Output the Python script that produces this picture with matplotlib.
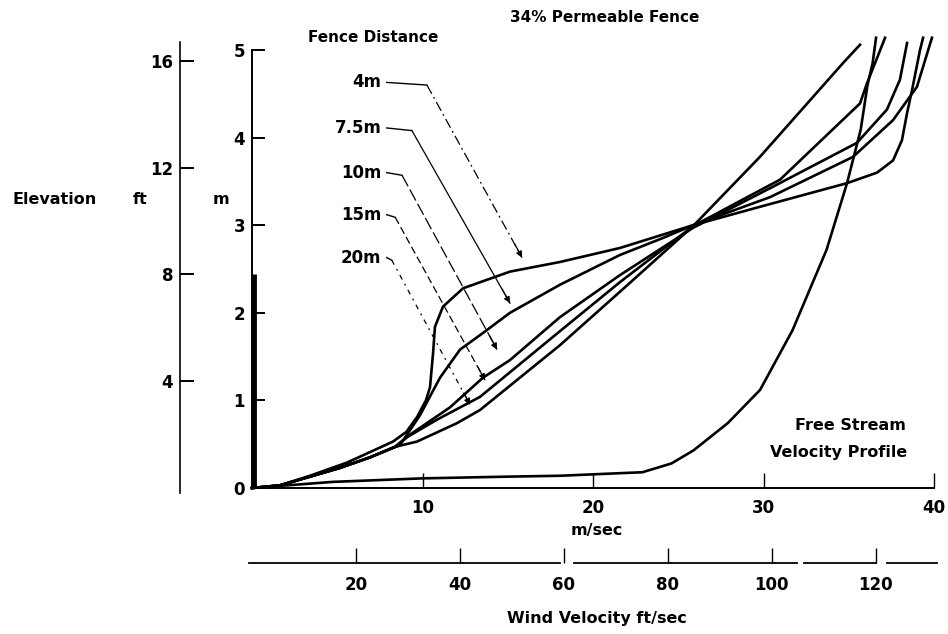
import numpy as np
import matplotlib
matplotlib.use("Agg")
import matplotlib.pyplot as plt

plt.rcParams['font.family'] = ['DejaVu Sans']
plt.rcParams['font.weight'] = 'bold'

# --- data: wind velocity (m/sec) vs elevation (m) ---
free_v = [0.0, 4.75, 10.0, 15.1, 18.1, 22.9, 24.6, 25.9, 27.9, 29.8, 31.7, 33.7, 34.9, 35.7, 36.1, 36.4, 36.6]
free_z = [0.0, 0.07, 0.11, 0.13, 0.14, 0.18, 0.28, 0.43, 0.74, 1.12, 1.80, 2.72, 3.48, 4.09, 4.60, 4.85, 5.14]

f4_v = [0.0, 1.64, 3.40, 5.57, 8.27, 9.05, 9.68, 10.20, 10.44, 10.62, 10.73, 11.20, 12.38, 15.13, 18.06, 21.58, 25.87,
        29.79, 34.90, 36.66, 37.60, 38.12, 38.42, 38.71, 39.18, 39.36]
f4_z = [0.0, 0.03, 0.14, 0.29, 0.53, 0.64, 0.81, 1.00, 1.15, 1.54, 1.84, 2.07, 2.28, 2.47, 2.58, 2.74, 3.00,
        3.21, 3.48, 3.60, 3.74, 3.97, 4.28, 4.54, 5.00, 5.14]

f75_v = [0.0, 1.64, 3.40, 5.16, 6.92, 8.68, 9.85, 11.03, 12.20, 13.55, 15.13, 18.06, 21.58, 24.05, 25.87,
         30.38, 35.25, 37.60, 39.00, 39.88]
f75_z = [0.0, 0.03, 0.13, 0.23, 0.35, 0.49, 0.83, 1.26, 1.58, 1.77, 2.00, 2.32, 2.66, 2.85, 3.00,
         3.32, 3.78, 4.20, 4.58, 5.14]

f10_v = [0.0, 1.64, 3.40, 5.16, 6.92, 8.39, 9.27, 11.61, 13.55, 15.13, 18.06, 21.58, 25.87,
         30.56, 35.48, 37.24, 38.00, 38.42]
f10_z = [0.0, 0.03, 0.13, 0.23, 0.35, 0.47, 0.61, 0.92, 1.26, 1.46, 1.95, 2.43, 2.97,
         3.44, 3.94, 4.32, 4.66, 5.08]

f15_v = [0.0, 1.64, 3.40, 5.16, 6.92, 8.39, 9.09, 10.85, 13.37, 18.06, 21.58, 25.87,
         30.97, 35.66, 36.07, 36.54, 37.13]
f15_z = [0.0, 0.03, 0.13, 0.23, 0.35, 0.47, 0.58, 0.78, 1.04, 1.79, 2.35, 2.99,
         3.52, 4.39, 4.62, 4.85, 5.14]

f20_v = [0.0, 1.64, 3.40, 5.16, 6.92, 8.39, 9.68, 12.02, 13.37, 18.06, 21.58, 25.87, 29.79, 34.66, 35.66]
f20_z = [0.0, 0.03, 0.13, 0.23, 0.35, 0.47, 0.53, 0.74, 0.89, 1.63, 2.24, 2.99, 3.78, 4.85, 5.06]

fence_height = 2.44   # m (8 ft)

# fence distance labels and where their arrows point (m/sec, m)
dist_labels = ['4m', '7.5m', '10m', '15m', '20m']
label_z = [4.63, 4.11, 3.60, 3.12, 2.63]
elbow_v = [10.26, 9.38, 8.80, 8.40, 8.20]
tip_v = [15.84, 15.13, 14.37, 13.67, 12.79]
tip_z = [2.63, 2.11, 1.58, 1.23, 0.95]
leader_styles = [(0, (8, 3, 1.5, 3)), '-', (0, (10, 3)), (0, (6, 3)), (0, (4, 4, 1.5, 4))]

m_ticks = [0, 1, 2, 3, 4, 5]
ft_ticks = [4, 8, 12, 16]
ms_ticks = [10, 20, 30, 40]
fts_ticks = [20, 40, 60, 80, 100, 120]
fts_segments = [(-0.6, 59.3), (62.0, 104.9), (106.2, 120.1), (122.2, 131.8)]

M_PER_FT = 0.3048

W, H = 948, 634
fig = plt.figure(figsize=(W / 100, H / 100), dpi=100)


def fx(px):
    return px / W


def fy(py):
    return 1 - py / H


ylo, yhi = -0.1, 5.4
ax_left, ax_w = fx(252), 682 / W
ax_bot = fy(488 + 0.1 * 87.6)
ax_h = (yhi - ylo) * 87.6 / H

ax = fig.add_axes([ax_left, ax_bot, ax_w, ax_h])
ax.set_xlim(0, 40)
ax.set_ylim(ylo, yhi)
ax.patch.set_visible(False)
for s in ['top', 'right']:
    ax.spines[s].set_visible(False)
ax.spines['left'].set_bounds(0, 5)
ax.spines['bottom'].set_bounds(0, 40)
ax.spines['bottom'].set_position(('data', 0))
for s in ['left', 'bottom']:
    ax.spines[s].set_linewidth(1.4)
ax.set_yticks(m_ticks)
ax.set_xticks(ms_ticks)
ax.tick_params(axis='y', direction='in', length=9, width=1.4, pad=5, labelsize=12)
ax.tick_params(axis='x', direction='in', length=11, width=1.0, pad=8, labelsize=12)

lw = 1.9
ax.plot(free_v, free_z, color='black', lw=lw, clip_on=False)
for v, z in [(f4_v, f4_z), (f75_v, f75_z), (f10_v, f10_z), (f15_v, f15_z), (f20_v, f20_z)]:
    ax.plot(v, z, color='black', lw=lw, clip_on=False, solid_joinstyle='round')

# fence
ax.plot([0.12, 0.12], [0, fence_height], color='black', lw=3.5, solid_capstyle='butt')

# fence distance labels with leaders
for lab, lz, ev, tv, tz, ls in zip(dist_labels, label_z, elbow_v, tip_v, tip_z, leader_styles):
    ax.text(7.6, lz, lab, ha='right', va='center', fontsize=12)
    ax.plot([7.9, ev], [lz, lz - 0.03], color='black', lw=1.0)
    ax.plot([ev, tv], [lz - 0.03, tz], color='black', lw=0.9, linestyle=ls)
    dv, dz = tv - ev, tz - lz
    ax.annotate('', xy=(tv, tz), xytext=(tv - 0.08 * dv, tz - 0.08 * dz),
                arrowprops=dict(arrowstyle='-|>', color='black', lw=0.9,
                                mutation_scale=9, shrinkA=0, shrinkB=0))

# elevation in ft
ax_ft = fig.add_axes([fx(180), ax_bot, 1e-4, ax_h])
ax_ft.set_ylim(ylo / M_PER_FT, yhi / M_PER_FT)
ax_ft.patch.set_visible(False)
for s in ['top', 'right', 'bottom']:
    ax_ft.spines[s].set_visible(False)
ax_ft.spines['left'].set_bounds(-0.18, 16.7)
ax_ft.spines['left'].set_linewidth(1.2)
ax_ft.set_xticks([])
ax_ft.set_yticks(ft_ticks)
ax_ft.tick_params(axis='y', direction='in', length=10, width=1.4, pad=5, labelsize=12)

# wind velocity in ft/sec
ax_fts = fig.add_axes([ax_left, fy(563), ax_w, 1e-4])
ax_fts.set_xlim(0, 40 / M_PER_FT)
ax_fts.set_ylim(0, 1)
ax_fts.patch.set_visible(False)
for s in ax_fts.spines.values():
    s.set_visible(False)
for a, b in fts_segments:
    ax_fts.plot([a, b], [0, 0], color='black', lw=1.3, clip_on=False)
ax_fts.set_yticks([])
ax_fts.set_xticks(fts_ticks)
ax_fts.set_xticklabels(['20', '40', '60', '80', '100', '120'])
ax_fts.tick_params(axis='x', direction='in', length=11, width=1.0, pad=9, labelsize=12)

# text
fig.text(fx(55), fy(199), 'Elevation', ha='center', va='center', fontsize=11.5)
fig.text(fx(140), fy(199), 'ft', ha='center', va='center', fontsize=11.5)
fig.text(fx(221), fy(199), 'm', ha='center', va='center', fontsize=11.5)
fig.text(fx(308), fy(37), 'Fence Distance', ha='left', va='center', fontsize=11)
fig.text(fx(510), fy(18), '34% Permeable Fence', ha='left', va='center', fontsize=11)
fig.text(fx(597), fy(530), 'm/sec', ha='center', va='center', fontsize=11.5)
fig.text(fx(597), fy(619), 'Wind Velocity ft/sec', ha='center', va='center', fontsize=11.5)
fig.text(fx(795), fy(426), 'Free Stream', ha='left', va='center', fontsize=11.5)
fig.text(fx(770), fy(453), 'Velocity Profile', ha='left', va='center', fontsize=11.5)

fig.savefig('out.png', dpi=100)
